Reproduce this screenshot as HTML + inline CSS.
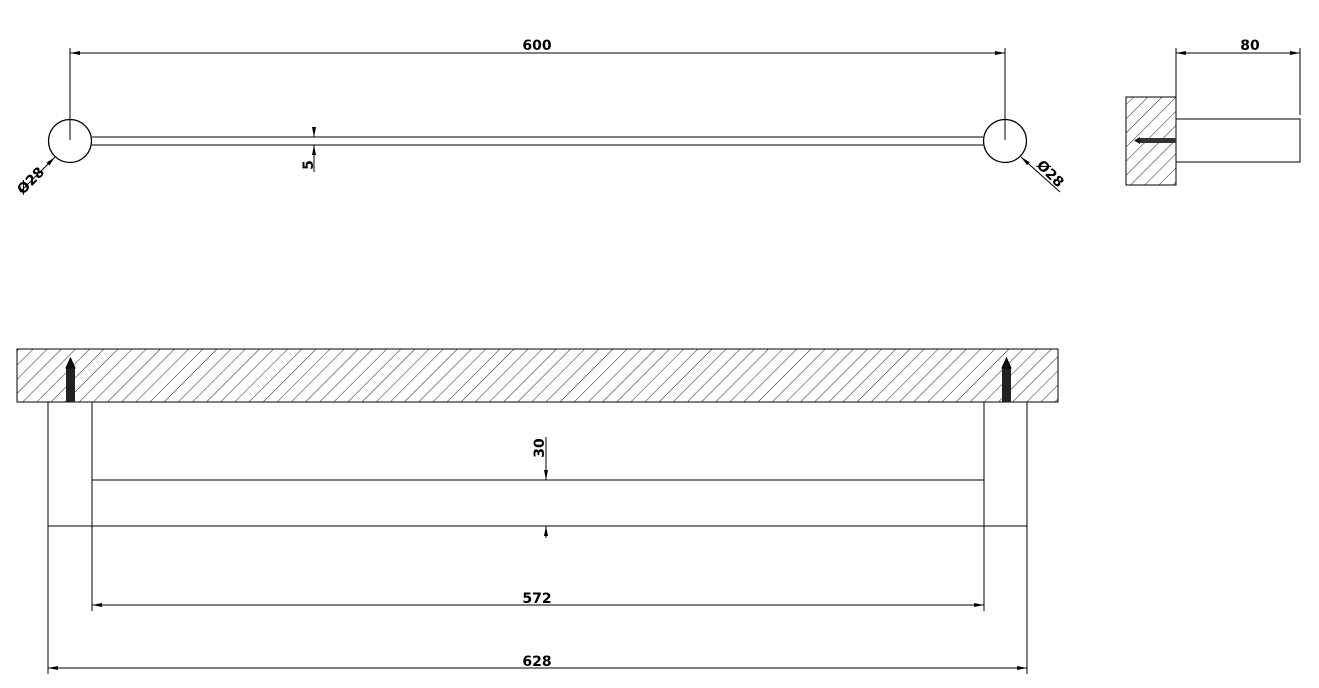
<!DOCTYPE html>
<html><head><meta charset="utf-8"><style>body{margin:0;background:#fff}svg{display:block}text{font-family:"DejaVu Sans","Liberation Sans",sans-serif;font-weight:bold;font-size:14px;fill:#000}</style></head>
<body>
<svg width="1319" height="688" viewBox="0 0 1319 688" xmlns="http://www.w3.org/2000/svg">
<defs>
<pattern id="h" patternUnits="userSpaceOnUse" width="10" height="10" patternTransform="rotate(45)">
<line x1="0" y1="0" x2="0" y2="10" stroke="#222" stroke-width="1"/>
</pattern>
<marker id="a" markerWidth="10" markerHeight="6" refX="10" refY="3" orient="auto-start-reverse" markerUnits="userSpaceOnUse"><path d="M0,1 L10,3 L0,5z" fill="#000"/></marker>
</defs>
<g stroke="#000" fill="none" stroke-width="1">
<line x1="70" y1="48" x2="70" y2="140"/>
<line x1="1005" y1="48" x2="1005" y2="140"/>
<line x1="70" y1="53" x2="1005" y2="53" marker-start="url(#a)" marker-end="url(#a)"/>
<circle cx="70" cy="141" r="21.5" stroke-width="1.3"/>
<circle cx="1005" cy="141" r="21.5" stroke-width="1.3"/>
<line x1="92" y1="137" x2="983" y2="137"/>
<line x1="92" y1="145" x2="983" y2="145"/>
<line x1="314" y1="127" x2="314" y2="137" marker-end="url(#a)"/>
<line x1="314" y1="172" x2="314" y2="145" marker-end="url(#a)"/>
<line x1="20" y1="192" x2="55" y2="157" marker-end="url(#a)"/>
<line x1="1060" y1="192" x2="1021" y2="157" marker-end="url(#a)"/>
<rect x="1126" y="97" width="50" height="88" fill="url(#h)"/>
<rect x="1176" y="119" width="124" height="43"/>
<line x1="1176" y1="48" x2="1176" y2="119"/>
<line x1="1300" y1="48" x2="1300" y2="115"/>
<line x1="1176" y1="53" x2="1300" y2="53" marker-start="url(#a)" marker-end="url(#a)"/>
<rect x="1140" y="138" width="36" height="5" fill="#333" stroke="none"/>
<path d="M1134,140.5 L1140,137 L1140,144z" fill="#111" stroke="none"/>
<rect x="17" y="349" width="1041" height="53" fill="url(#h)"/>
<rect x="48" y="402" width="44" height="124"/>
<rect x="984" y="402" width="43" height="124"/>
<rect x="92" y="480" width="892" height="46"/>
<rect x="66" y="368" width="9" height="34" fill="#222" stroke="none"/>
<path d="M66,368 L70.5,358 L75,368z" fill="#111"/>
<rect x="1002" y="368" width="9" height="34" fill="#222" stroke="none"/>
<path d="M1002,368 L1006.5,358 L1011,368z" fill="#111"/>
<line x1="546" y1="437" x2="546" y2="480" marker-end="url(#a)"/>
<line x1="546" y1="538" x2="546" y2="526" marker-end="url(#a)"/>
<line x1="92" y1="526" x2="92" y2="611"/>
<line x1="984" y1="526" x2="984" y2="611"/>
<line x1="92" y1="605" x2="984" y2="605" marker-start="url(#a)" marker-end="url(#a)"/>
<line x1="48" y1="526" x2="48" y2="674"/>
<line x1="1027" y1="526" x2="1027" y2="674"/>
<line x1="48" y1="668" x2="1027" y2="668" marker-start="url(#a)" marker-end="url(#a)"/>
</g>
<text x="537" y="50" text-anchor="middle">600</text>
<text x="1250" y="50" text-anchor="middle">80</text>
<text x="537" y="603" text-anchor="middle">572</text>
<text x="537" y="666" text-anchor="middle">628</text>
<text transform="translate(313,165) rotate(-90)" text-anchor="middle">5</text>
<text transform="translate(544,448) rotate(-90)" text-anchor="middle">30</text>
<text transform="translate(34,184) rotate(-45)" text-anchor="middle">Ø28</text>
<text transform="translate(1047,177) rotate(45)" text-anchor="middle">Ø28</text>
</svg>
</body></html>
